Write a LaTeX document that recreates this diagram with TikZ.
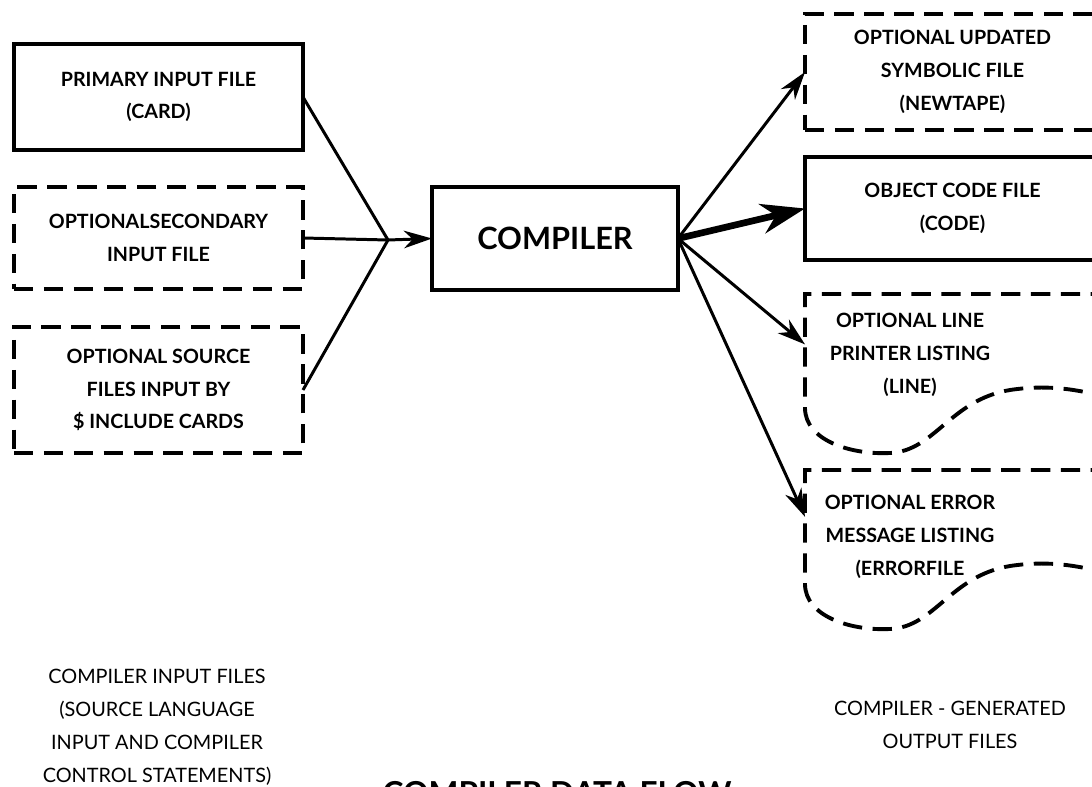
\documentclass[tikz,border=0pt]{standalone}
\usepackage{fontspec}
\setmainfont{Lato}
\usetikzlibrary{arrows.meta, calc}

\begin{document}
\begin{tikzpicture}[x=0.02cm, y=-0.02cm,
  inbox/.style={rectangle, draw=black, line width=2.2pt, fill=white,
                minimum width=5.78cm, align=center, inner sep=0pt, outer sep=0pt,
                font=\fontsize{11.2}{18.7}\selectfont\bfseries},
  optbox/.style={inbox, dash pattern=on 11pt off 6pt},
  compbox/.style={inbox, minimum width=4.92cm, minimum height=2.06cm,
                  font=\fontsize{17.5}{20}\selectfont\bfseries},
  docbox/.style={rectangle, draw=none, minimum width=4.2cm, minimum height=2.12cm,
                 align=center, inner sep=0pt, outer sep=0pt,
                 font=\fontsize{11.2}{18.7}\selectfont\bfseries},
  docline/.style={line width=2.2pt, dash pattern=on 11pt off 6pt},
  arr/.style={-{Stealth[length=16pt, width=10pt, inset=5pt]}, line width=1.7pt},
  fatarr/.style={-{Stealth[length=25pt, width=17pt, inset=8pt]}, line width=3.8pt},
  note/.style={align=center, font=\fontsize{11.3}{18.7}\selectfont}
]
\useasboundingbox (0,0) rectangle (1092,787);
%% input files
\node[inbox,  minimum height=2.12cm] (prim) at (158.5,97)  {PRIMARY INPUT FILE\\(CARD)};
\node[optbox, minimum height=2.04cm] (sec)  at (158.5,238) {OPTIONALSECONDARY\\INPUT FILE};
\node[optbox, minimum height=2.52cm] (src)  at (158.5,390) {OPTIONAL SOURCE\\FILES INPUT BY\\\$ INCLUDE CARDS};
\coordinate (hub) at (388,240);
%% compiler
\node[compbox] (comp) at (555,238.5) {COMPILER};
\draw[line width=1.7pt] (prim.east) -- (hub);
\draw[line width=1.7pt] (sec.east) -- (hub);
\draw[line width=1.7pt] (src.east) -- (hub);
\draw[arr] (hub) -- (comp.west);
%% output files
\node[optbox, minimum width=5.9cm, minimum height=2.32cm] (upd)  at (952.5,72)  {OPTIONAL UPDATED\\SYMBOLIC FILE\\(NEWTAPE)};
\node[inbox,  minimum width=5.9cm, minimum height=2.06cm] (code) at (952.5,208.5) {OBJECT CODE FILE\\(CODE)};
\node[docbox] (line) at (910,355) {OPTIONAL LINE\\PRINTER LISTING\\(LINE)};
\node[docbox] (err)  at (910,537) {OPTIONAL ERROR\\MESSAGE LISTING\\(ERRORFILE};
\foreach \dy in {0,176}
  \draw[docline, shift={(0,\dy)}] (1110,294) -- (805,294) -- (805,408)
    .. controls (805,440) and (850,455) .. (890,453)
    .. controls (935,451) and (950,400) .. (1010,390)
    .. controls (1050,384) and (1080,390) .. (1110,398);
\draw[arr]    (comp.east) -- (upd.west);
\draw[fatarr] (comp.east) -- (code.west);
\draw[arr]    (comp.east) -- ($(line.north west)!0.4!(line.south west)$);
\draw[arr]    (comp.east) -- ($(err.north west)!0.31!(err.south west)$);
%% captions
\node[note] (incap)  at (157,727) {COMPILER INPUT FILES\\(SOURCE LANGUAGE\\INPUT AND COMPILER\\CONTROL STATEMENTS)};
\node[note] (outcap) at (950,725) {COMPILER - GENERATED\\OUTPUT FILES};
\node[anchor=base, font=\fontsize{18}{20}\selectfont\bfseries] (title) at (557,804) {COMPILER DATA FLOW};
\end{tikzpicture}
\end{document}
